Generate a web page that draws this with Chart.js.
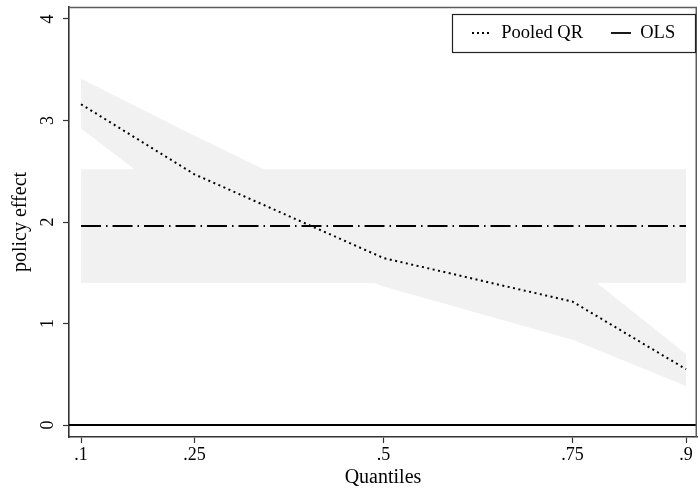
<!DOCTYPE html>
<html lang="en">
<head>
    <meta charset="UTF-8">
    <title>Policy effect by quantile</title>
    <script src="https://cdn.jsdelivr.net/npm/chart.js@4.4.0/dist/chart.umd.min.js"></script>
    <style>
        html, body { margin: 0; padding: 0; background: #fff; }
        canvas { display: block; }
    </style>
</head>
<body>
    <canvas id="qrChart" width="698" height="495"></canvas>

    <script>
        // Values
        const quantiles = [0.1, 0.25, 0.5, 0.75, 0.9];
        const pooledQR  = [3.16, 2.47, 1.645, 1.215, 0.55];
        const qrUpper   = [3.41, 2.85, 1.95, 1.59, 0.70];
        const qrLower   = [2.92, 2.07, 1.365, 0.84, 0.385];

        const olsSpan   = [0.1, 0.9];
        const olsEffect = [1.96, 1.96];
        const olsUpper  = [2.52, 2.52];
        const olsLower  = [1.40, 1.40];

        const xTicks  = [0.1, 0.25, 0.5, 0.75, 0.9];
        const yTicks  = [0, 1, 2, 3, 4];
        const xLimits = [0.0841, 0.9145];
        const yLimits = [-0.118, 4.118];
        const legendNames = ['Pooled QR', 'OLS'];

        const pts = (xs, ys) => xs.map((x, i) => ({ x: x, y: ys[i] }));

        const bandGrey = '#f1f1f1';
        Chart.defaults.font.family = "'Liberation Serif', 'Times New Roman', serif";
        Chart.defaults.color = '#000';

        // legend sits inside the plot region, top right, with a box round it
        const legendInside = {
            id: 'legendInside',
            beforeLayout(chart) {
                const lg = chart.legend;
                if (lg && !lg._inside) {
                    const fit = lg.fit;
                    lg.fit = function () { fit.call(this); this.height = 0; };
                    lg._inside = true;
                }
            },
            afterLayout(chart) {
                const lg = chart.legend;
                lg.left = 444; lg.right = 760;
                lg.top = -4.25; lg.bottom = 60;
                lg.width = lg.right - lg.left;
                lg.height = lg.bottom - lg.top;
            },
            afterDraw(chart) {
                const ctx = chart.ctx;
                const a = chart.chartArea;
                ctx.save();
                // top and right edges of the plot region
                ctx.strokeStyle = '#5c5c5c';
                ctx.lineWidth = 1.5;
                ctx.beginPath();
                ctx.moveTo(a.left, a.top + 0.5);
                ctx.lineTo(a.right - 0.75, a.top + 0.5);
                ctx.lineTo(a.right - 0.75, a.bottom);
                ctx.stroke();
                // legend frame
                ctx.strokeStyle = '#222';
                ctx.lineWidth = 1.2;
                ctx.strokeRect(452.5, 14.5, 243, 38);
                ctx.restore();
            }
        };

        const noEdgePadding = (s) => {
            s.paddingTop = 0; s.paddingBottom = 0;
            s.paddingLeft = 0; s.paddingRight = 0;
        };

        const ctx = document.getElementById('qrChart').getContext('2d');
        new Chart(ctx, {
            type: 'line',
            data: {
                datasets: [
                    {
                        label: legendNames[0],
                        data: pts(quantiles, pooledQR),
                        borderColor: '#000',
                        borderWidth: 2,
                        borderDash: [2, 3.5],
                        pointRadius: 0,
                        fill: false
                    },
                    {
                        label: 'OLS estimate',
                        data: pts(olsSpan, olsEffect),
                        borderColor: '#000',
                        borderWidth: 2,
                        borderDash: [20, 5, 1.5, 5],
                        pointRadius: 0,
                        fill: false
                    },
                    {
                        label: legendNames[1],
                        data: pts(xLimits, [0, 0]),
                        borderColor: '#000',
                        borderWidth: 2,
                        pointRadius: 0,
                        fill: false
                    },
                    {
                        label: 'QR upper',
                        data: pts(quantiles, qrUpper),
                        borderColor: 'rgba(0,0,0,0)',
                        borderWidth: 0,
                        backgroundColor: bandGrey,
                        pointRadius: 0,
                        fill: '+1'
                    },
                    {
                        label: 'QR lower',
                        data: pts(quantiles, qrLower),
                        borderColor: 'rgba(0,0,0,0)',
                        borderWidth: 0,
                        pointRadius: 0,
                        fill: false
                    },
                    {
                        label: 'OLS upper',
                        data: pts(olsSpan, olsUpper),
                        borderColor: 'rgba(0,0,0,0)',
                        borderWidth: 0,
                        backgroundColor: bandGrey,
                        pointRadius: 0,
                        fill: '+1'
                    },
                    {
                        label: 'OLS lower',
                        data: pts(olsSpan, olsLower),
                        borderColor: 'rgba(0,0,0,0)',
                        borderWidth: 0,
                        pointRadius: 0,
                        fill: false
                    }
                ]
            },
            options: {
                responsive: false,
                animation: false,
                layout: { padding: { top: 7, right: 1, left: 0, bottom: 0 } },
                plugins: {
                    tooltip: { enabled: false },
                    legend: {
                        display: true,
                        position: 'top',
                        align: 'start',
                        labels: {
                            font: { size: 18.5 },
                            color: '#000',
                            usePointStyle: true,
                            pointStyle: 'line',
                            pointStyleWidth: 20,
                            padding: 28,
                            generateLabels: () => [
                                { text: legendNames[0], pointStyle: 'line', strokeStyle: '#000', fillStyle: '#000', lineWidth: 1.8, lineDash: [2, 3], datasetIndex: 0, hidden: false },
                                { text: legendNames[1], pointStyle: 'line', strokeStyle: '#000', fillStyle: '#000', lineWidth: 1.8, lineDash: [], datasetIndex: 2, hidden: false }
                            ]
                        }
                    }
                },
                scales: {
                    x: {
                        type: 'linear',
                        min: xLimits[0],
                        max: xLimits[1],
                        afterFit: (s) => { s.height = 58; noEdgePadding(s); },
                        afterBuildTicks: (s) => { s.ticks = xTicks.map(v => ({ value: v })); },
                        border: { display: true, color: '#333', width: 1.6 },
                        grid: { display: true, drawOnChartArea: false, drawTicks: true, tickLength: 6, tickColor: '#333', tickWidth: 1.2 },
                        ticks: {
                            autoSkip: false,
                            maxRotation: 0,
                            padding: 1.5,
                            font: { size: 18 },
                            color: '#000',
                            callback: (v) => String(v).replace(/^0\./, '.')
                        },
                        title: {
                            display: true,
                            text: 'Quantiles',
                            font: { size: 20 },
                            color: '#000',
                            padding: { top: 0, bottom: 5.5 }
                        }
                    },
                    y: {
                        type: 'linear',
                        min: yLimits[0],
                        max: yLimits[1],
                        afterFit: (s) => { s.width = 69; noEdgePadding(s); },
                        afterBuildTicks: (s) => { s.ticks = yTicks.map(v => ({ value: v })); },
                        border: { display: true, color: '#333', width: 1.6 },
                        grid: { display: true, drawOnChartArea: false, drawTicks: true, tickLength: 6, tickColor: '#333', tickWidth: 1.2 },
                        ticks: {
                            minRotation: 90,
                            maxRotation: 90,
                            crossAlign: 'center',
                            padding: 10,
                            font: { size: 18 },
                            color: '#000',
                            callback: (v) => String(v)
                        },
                        title: {
                            display: true,
                            text: 'policy effect',
                            font: { size: 20 },
                            color: '#000',
                            padding: { top: 9, bottom: 0 }
                        }
                    }
                }
            },
            plugins: [legendInside]
        });
    </script>
</body>
</html>
